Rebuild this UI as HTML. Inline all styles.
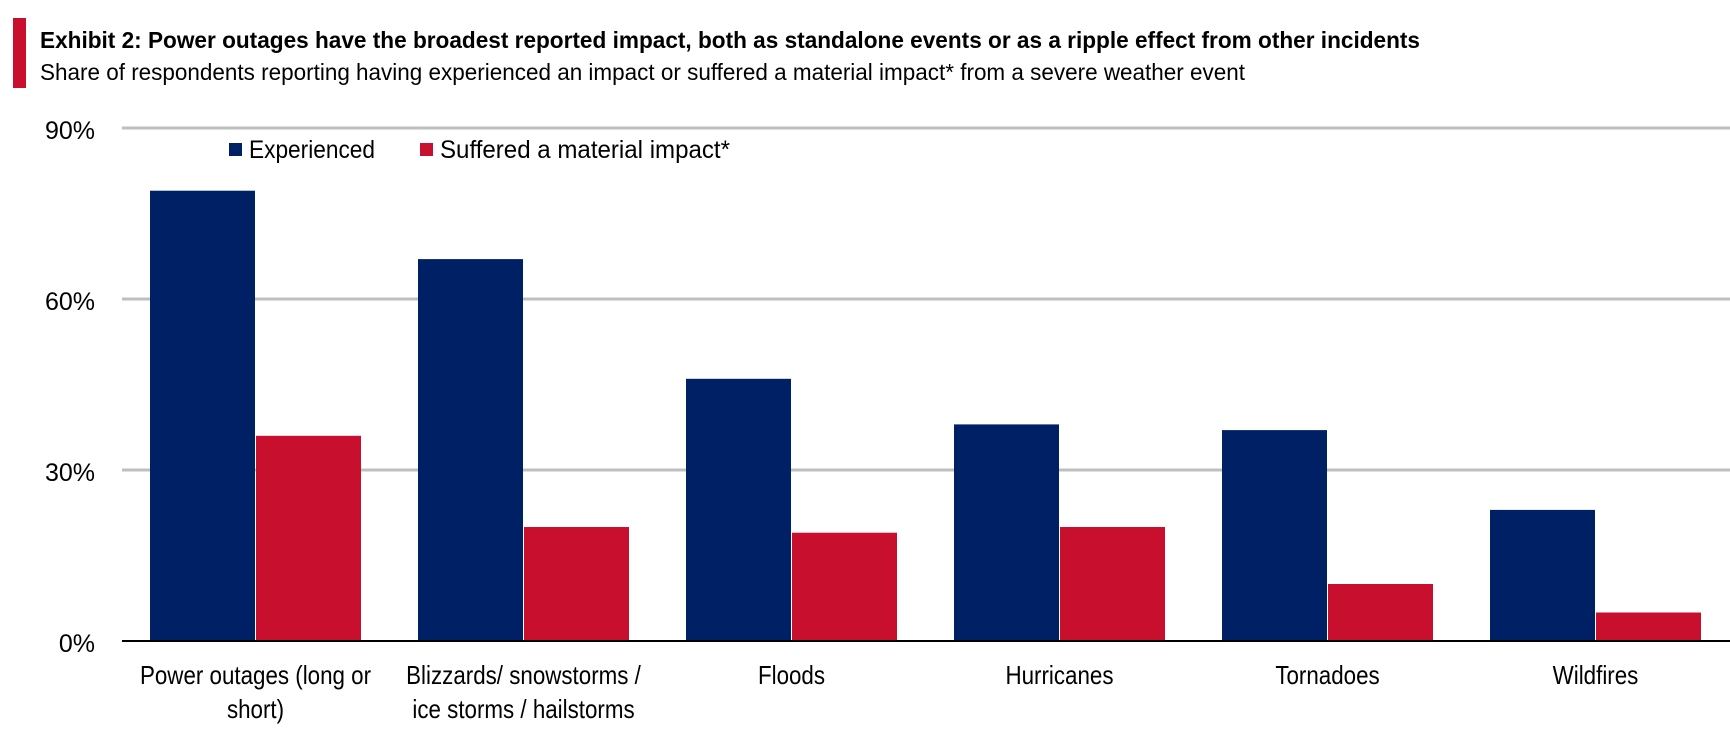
<!DOCTYPE html>
<html><head><meta charset="utf-8"><style>html,body{margin:0;padding:0;background:#fff}svg{display:block}text{font-family:"Liberation Sans",sans-serif}</style></head>
<body>
<svg id="chart" width="1730" height="740" xmlns="http://www.w3.org/2000/svg">
<rect x="13" y="18" width="13" height="70" fill="#c8102e"/>
<text x="40" y="48" font-size="23" font-weight="bold" fill="#000" textLength="1380" lengthAdjust="spacingAndGlyphs">Exhibit 2: Power outages have the broadest reported impact, both as standalone events or as a ripple effect from other incidents</text>
<text x="40" y="80" font-size="23" fill="#000" textLength="1205" lengthAdjust="spacingAndGlyphs">Share of respondents reporting having experienced an impact or suffered a material impact* from a severe weather event</text>
<g id="grid"></g><g id="bars"></g><g id="labels"></g>
<g>
<rect x="229" y="143" width="13" height="13" fill="#002066"/>
<text x="249" y="158" font-size="25" textLength="126" lengthAdjust="spacingAndGlyphs">Experienced</text>
<rect x="420" y="143" width="13" height="13" fill="#c8102e"/>
<text x="440" y="158" font-size="25" textLength="290" lengthAdjust="spacingAndGlyphs">Suffered a material impact*</text>
</g>
</svg>
<script>
const categories = [["Power outages (long or","short)"],["Blizzards/ snowstorms /","ice storms / hailstorms"],["Floods"],["Hurricanes"],["Tornadoes"],["Wildfires"]];
const experienced = [79, 67, 46, 38, 37, 23];
const material = [36, 20, 19, 20, 10, 5];
const ticks = [0, 30, 60, 90];
const tickLabels = ["0%", "30%", "60%", "90%"];

const NS = "http://www.w3.org/2000/svg";
const x0 = 122, x1 = 1730, y0 = 641, yTop = 128, yMax = 90;
const groupW = (x1 - x0) / categories.length;
const barW = 105;
function yScale(v){ return y0 - (v / yMax) * (y0 - yTop); }
function groupX(i){ return x0 + i * groupW; }
function mk(tag, attrs){ const e = document.createElementNS(NS, tag); for (const k in attrs) e.setAttribute(k, attrs[k]); return e; }

const grid = document.getElementById('grid');
ticks.forEach((t, i) => {
  if (t !== 0) {
    const l = mk('line', {x1: x0, x2: x1, y1: yScale(t), y2: yScale(t), stroke: '#bfbfbf', 'stroke-width': 3});
    
    
    grid.appendChild(l);
  }
  const tx = mk('text', {x: 95, y: yScale(t) + 11, 'font-size': 25, 'text-anchor': 'end', fill: '#000'});
  tx.textContent = tickLabels[i];
  
  
  grid.appendChild(tx);
});

const bars = document.getElementById('bars');
const labels = document.getElementById('labels');
categories.forEach((c, i) => {
  const gx = groupX(i) + 28;
  const b1 = mk('rect', {x: gx, y: yScale(experienced[i]), width: barW, height: y0 - yScale(experienced[i]), fill: '#002066'});
  
  
  bars.appendChild(b1);
  const b2 = mk('rect', {x: gx + barW + 1, y: yScale(material[i]), width: barW, height: y0 - yScale(material[i]), fill: '#c8102e'});
  
  
  bars.appendChild(b2);
  const cx = gx + barW + 0.5;
  c.forEach((line, j) => {
    const t = mk('text', {x: 0, y: 0, 'font-size': 26, 'text-anchor': 'middle', fill: '#000', transform: 'translate(' + cx + ',' + (684 + j * 34) + ') scale(0.86,1)'});
    t.textContent = line;
    
    
    labels.appendChild(t);
  });
});
const ax = mk('line', {x1: x0, x2: x1, y1: y0, y2: y0, stroke: '#000', 'stroke-width': 2});


bars.appendChild(ax);
</script>
</body></html>
